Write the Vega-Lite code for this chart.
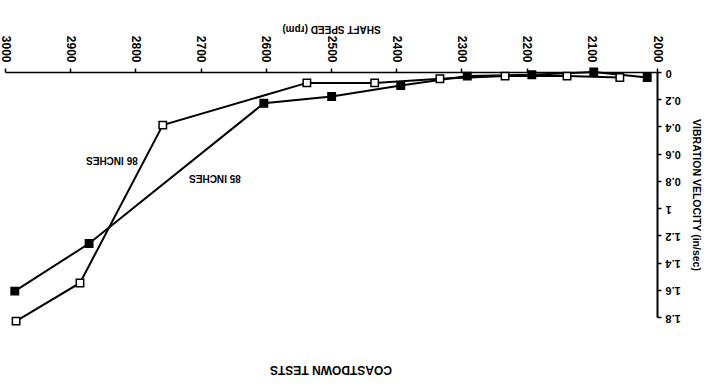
{
  "$schema": "https://vega.github.io/schema/vega-lite/v6.json",
  "autosize": "none",
  "width": 652,
  "height": 245,
  "padding": {"left": 5, "top": 72, "right": 62, "bottom": 72},
  "background": "white",
  "config": {
    "view": {"stroke": null},
    "font": "Liberation Sans"
  },
  "title": {
    "text": "COASTDOWN TESTS",
    "orient": "bottom",
    "angle": 180,
    "anchor": "middle",
    "fontSize": 12,
    "fontWeight": "bold",
    "color": "black",
    "offset": 42,
    "baseline": "middle"
  },
  "data": {
    "values": [
      {"series": "86 INCHES", "rpm": 2983, "vel": 1.83},
      {"series": "86 INCHES", "rpm": 2885, "vel": 1.55},
      {"series": "86 INCHES", "rpm": 2758, "vel": 0.39},
      {"series": "86 INCHES", "rpm": 2537, "vel": 0.08},
      {"series": "86 INCHES", "rpm": 2433, "vel": 0.08},
      {"series": "86 INCHES", "rpm": 2333, "vel": 0.05},
      {"series": "86 INCHES", "rpm": 2233, "vel": 0.03},
      {"series": "86 INCHES", "rpm": 2138, "vel": 0.03},
      {"series": "86 INCHES", "rpm": 2057, "vel": 0.04},
      {"series": "85 INCHES", "rpm": 2985, "vel": 1.61},
      {"series": "85 INCHES", "rpm": 2871, "vel": 1.26},
      {"series": "85 INCHES", "rpm": 2603, "vel": 0.23},
      {"series": "85 INCHES", "rpm": 2499, "vel": 0.18},
      {"series": "85 INCHES", "rpm": 2393, "vel": 0.10},
      {"series": "85 INCHES", "rpm": 2291, "vel": 0.03},
      {"series": "85 INCHES", "rpm": 2192, "vel": 0.02},
      {"series": "85 INCHES", "rpm": 2097, "vel": 0.0},
      {"series": "85 INCHES", "rpm": 2015, "vel": 0.04}
    ]
  },
  "encoding": {
    "x": {
      "field": "rpm", "type": "quantitative",
      "scale": {"domain": [2000, 3000], "reverse": true, "nice": false, "zero": false},
      "axis": {
        "orient": "top",
        "title": "SHAFT SPEED (rpm)",
        "titleAngle": 180,
        "titleFontSize": 10,
        "titleFontWeight": "bold",
        "titleColor": "black",
        "titlePadding": 12,
        "values": [2000, 2100, 2200, 2300, 2400, 2500, 2600, 2700, 2800, 2900, 3000],
        "format": "d",
        "labelAngle": 90,
        "labelAlign": "right",
        "labelBaseline": "middle",
        "labelFontSize": 12,
        "labelFontWeight": "bold",
        "labelColor": "black",
        "labelPadding": 6,
        "labelOverlap": false,
        "tickSize": 4,
        "tickColor": "black",
        "tickWidth": 1.5,
        "domainColor": "black",
        "domainWidth": 1.5,
        "grid": false,
        "labelFlush": false
      }
    },
    "y": {
      "field": "vel", "type": "quantitative",
      "scale": {"domain": [0, 1.8], "reverse": true, "nice": false},
      "axis": {
        "orient": "right",
        "title": "VIBRATION VELOCITY (in/sec)",
        "titleAngle": 90,
        "titleFontSize": 10.5,
        "titleFontWeight": "bold",
        "titleColor": "black",
        "titlePadding": 10,
        "values": [0, 0.2, 0.4, 0.6, 0.8, 1, 1.2, 1.4, 1.6, 1.8],
        "format": "~g",
        "labelAngle": 180,
        "labelAlign": "right",
        "labelBaseline": "middle",
        "labelFontSize": 11,
        "labelFontWeight": "bold",
        "labelColor": "black",
        "labelPadding": 4,
        "labelOverlap": false,
        "tickSize": 4,
        "tickColor": "black",
        "tickWidth": 1.5,
        "domainColor": "black",
        "domainWidth": 2,
        "grid": false,
        "labelFlush": false
      }
    }
  },
  "layer": [
    {
      "mark": {"type": "line", "color": "black", "strokeWidth": 2},
      "encoding": {
        "detail": {"field": "series"}
      }
    },
    {
      "mark": {"type": "point", "shape": "square", "filled": true, "size": 55, "stroke": "black", "strokeWidth": 1.5, "opacity": 1},
      "encoding": {
        "fill": {
          "field": "series", "type": "nominal",
          "scale": {"domain": ["86 INCHES", "85 INCHES"], "range": ["white", "black"]},
          "legend": null
        }
      }
    },
    {
      "data": {
        "values": [
          {"label": "86 INCHES", "rpm": 2836, "vel": 0.647},
          {"label": "85 INCHES", "rpm": 2678, "vel": 0.78}
        ]
      },
      "mark": {"type": "text", "angle": 180, "align": "center", "baseline": "middle", "fontSize": 10, "fontWeight": "bold", "color": "black"},
      "encoding": {
        "text": {"field": "label"}
      }
    }
  ]
}
